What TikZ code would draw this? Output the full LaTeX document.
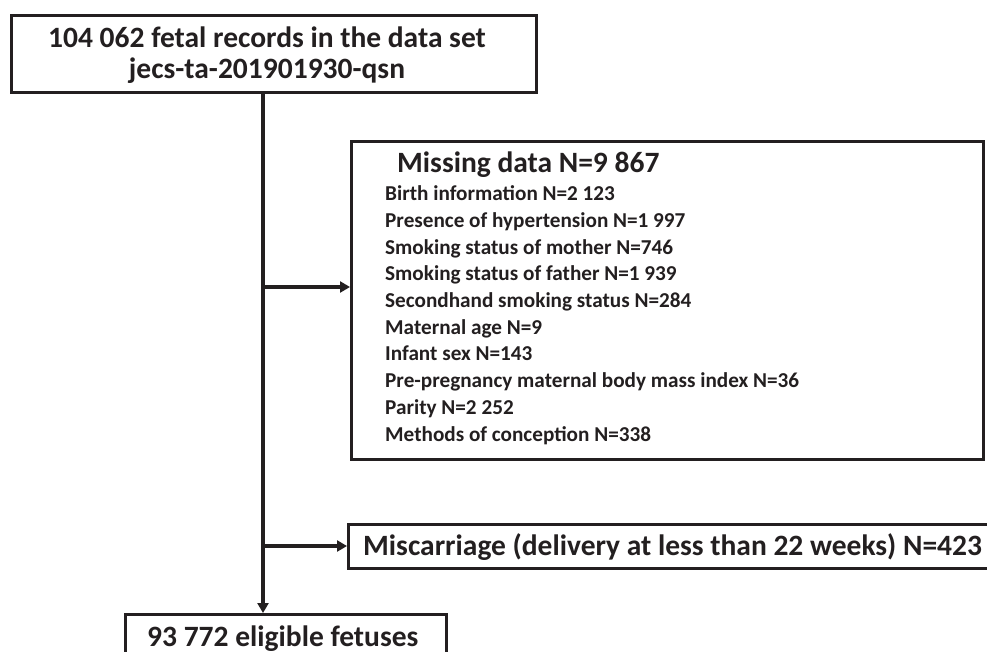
\documentclass[tikz,border=0pt]{standalone}
\usepackage{fontspec}
\setmainfont{Carlito}
\usetikzlibrary{arrows.meta}
\definecolor{ink}{HTML}{231F20}
\begin{document}
\begin{tikzpicture}[x=1pt,y=-1pt,
  boxstyle/.style={draw=ink,line width=3pt,inner sep=0pt,fill=white},
  bigtext/.style={font=\bfseries\fontsize{29.5}{31}\selectfont,text=ink,inner sep=0pt},
  itemtext/.style={font=\bfseries\fontsize{21.2}{26}\selectfont,text=ink,inner sep=0pt,anchor=base west},
  flow/.style={draw=ink,line width=3.3pt},
  flowarrow/.style={flow,-{Triangle[length=10pt,width=11pt]}}]
\useasboundingbox (0,0) rectangle (987,652);
% top box
\node[boxstyle,minimum width=525pt,minimum height=77pt,anchor=north west] (top) at (10,14) {};
\node[bigtext,anchor=base] (topline1) at (267,48) {104 062 fetal records in the data set};
\node[bigtext,anchor=base] (topline2) at (267,79) {jecs-ta-201901930-qsn};
% missing data box
\node[boxstyle,minimum width=632pt,minimum height=318pt,anchor=north west] (missing) at (350,140) {};
\node[bigtext,anchor=base west] (misstitle) at (397,172.7) {Missing data N=9 867};
\foreach \t [count=\i] in {Birth information N=2 123,Presence of hypertension N=1 997,Smoking status of mother N=746,Smoking status of father N=1 939,Secondhand smoking status N=284,Maternal age N=9,Infant sex N=143,Pre-pregnancy maternal body mass index N=36,Parity N=2 252,Methods of conception N=338}
  \node[itemtext] (item\i) at (385,{200.7+26.7*(\i-1)}) {\t};
% miscarriage box
\node[boxstyle,minimum width=642pt,minimum height=44pt,anchor=north west] (misc) at (347,523) {};
\node[bigtext,anchor=base west] (misctext) at (363,555) {Miscarriage (delivery at less than 22 weeks) N=423};
% bottom box
\node[boxstyle,minimum width=321pt,minimum height=80pt,anchor=north west] (bottom) at (124,613) {};
\node[bigtext,anchor=base west] (bottomtext) at (147,646) {93 772 eligible fetuses};
% connectors
\coordinate (j1) at (top.south -| 263,0);
\coordinate (b1) at (bottom.north -| 263,0);
\draw[flowarrow] (j1) -- (b1);
\coordinate (s1) at (263,287);
\coordinate (s2) at (263,546);
\draw[flowarrow] (s1) -- (s1 -| missing.west);
\draw[flowarrow] (s2) -- (s2 -| misc.west);
\end{tikzpicture}
\end{document}
